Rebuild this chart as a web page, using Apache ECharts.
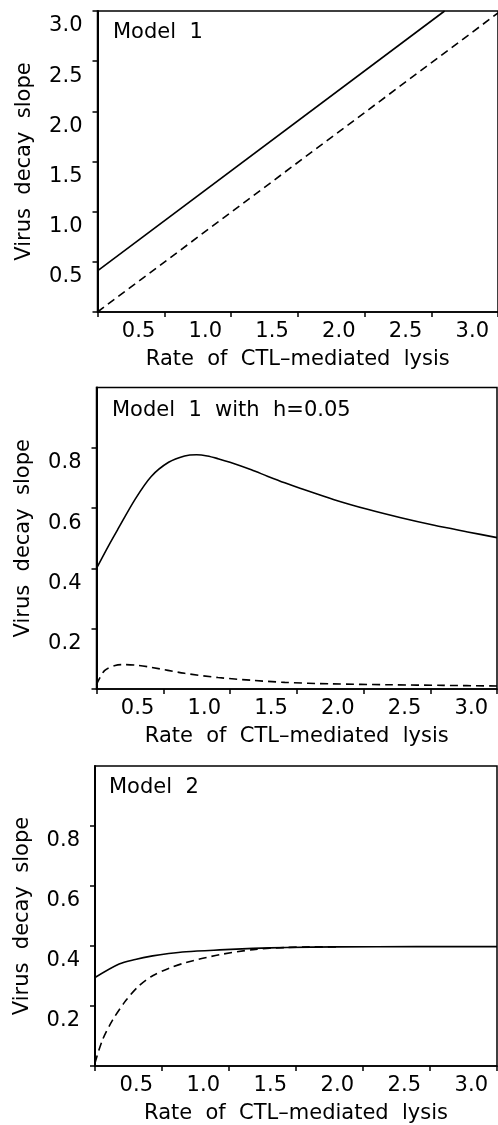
<!DOCTYPE html>
<html>
<head>
<meta charset="utf-8">
<script src="https://cdn.jsdelivr.net/npm/echarts@6/dist/echarts.min.js"></script>
<style>
  html, body { margin: 0; padding: 0; background: #fff; }
  #chart { width: 498px; height: 1125px; }
</style>
</head>
<body>
<div id="chart"></div>
<script>
// panel titles
const panelTitles = ['Model  1', 'Model  1  with  h=0.05', 'Model  2']

// x ticks and labels
const xTicks = [0, 0.5, 1.0, 1.5, 2.0, 2.5, 3.0]
const xLabels = [0.5, 1.0, 1.5, 2.0, 2.5, 3.0]

// panel 1 (straight lines)
const m1SolidX = [0, 2.6]
const m1SolidY = [0.41, 3.0]
const m1DashX = [0, 3.0]
const m1DashY = [0, 2.98]

// panel 2 (Model 1 with h=0.05)
const m1hSolidX = [0, 0.09, 0.16, 0.29, 0.41, 0.54, 0.66, 0.75, 0.83, 0.91, 1.0, 1.16, 1.28, 1.41, 1.53, 1.78, 2.03, 2.28, 2.53, 2.78, 3.0]
const m1hSolidY = [0.40, 0.475, 0.53, 0.63, 0.705, 0.752, 0.773, 0.777, 0.773, 0.764, 0.752, 0.727, 0.706, 0.684, 0.665, 0.628, 0.596, 0.568, 0.543, 0.521, 0.502]
const m1hDashX = [0, 0.06, 0.14, 0.21, 0.3, 0.41, 0.66, 0.91, 1.16, 1.41, 1.76, 2.2, 2.6, 3.0]
const m1hDashY = [0.015, 0.061, 0.078, 0.081, 0.079, 0.072, 0.052, 0.038, 0.029, 0.022, 0.017, 0.014, 0.012, 0.010]

// panel 3 (Model 2)
const m2SolidX = [0, 0.18, 0.3, 0.43, 0.55, 0.68, 0.93, 1.18, 1.43, 1.8, 2.4, 3.0]
const m2SolidY = [0.295, 0.34, 0.355, 0.367, 0.375, 0.381, 0.387, 0.392, 0.395, 0.397, 0.398, 0.398]
const m2DashX = [0, 0.055, 0.13, 0.23, 0.33, 0.43, 0.555, 0.68, 0.93, 1.18, 1.43, 1.6, 1.8]
const m2DashY = [0.01, 0.086, 0.152, 0.218, 0.268, 0.301, 0.326, 0.345, 0.371, 0.388, 0.395, 0.397, 0.397]

const FONT = 'DejaVu Sans'
const zip = (xs, ys) => xs.map((x, i) => [x, ys[i]])

const grids = [
    { left: 97.5, top: 11, right: -2, height: 301 },
    { left: 96.5, top: 387.5, right: 1, height: 301.5 },
    { left: 95, top: 766, right: 1, height: 300 }
]

function xAxisOf(i) {
    return {
        type: 'value', gridIndex: i, min: 0, max: 3, interval: 0.5,
        name: 'Rate  of  CTL\u2013mediated  lysis', nameLocation: 'middle', nameGap: 37,
        nameTextStyle: { fontFamily: FONT, fontSize: 21, color: '#000' },
        axisLine: { lineStyle: { color: '#000', width: 1.5 } },
        axisTick: { show: true, inside: false, length: 5, customValues: xTicks, lineStyle: { color: '#000', width: 1.5 } },
        axisLabel: {
            customValues: xLabels, margin: 9, align: 'right', padding: [0, 9, 0, 0],
            fontFamily: FONT, fontSize: 21, color: '#000',
            formatter: (v) => v.toFixed(1)
        },
        splitLine: { show: false }
    }
}

function yAxisOf(i, max, interval, ticks, labels) {
    return {
        type: 'value', gridIndex: i, min: 0, max: max, interval: interval,
        name: 'Virus  decay  slope', nameLocation: 'middle', nameGap: 62, nameRotate: 90,
        nameTextStyle: { fontFamily: FONT, fontSize: 21, color: '#000' },
        axisLine: { lineStyle: { color: '#000', width: 2 } },
        axisTick: { show: true, inside: false, length: 5, customValues: ticks, lineStyle: { color: '#000', width: 1.5 } },
        axisLabel: {
            customValues: labels, margin: 15, verticalAlign: 'top', lineHeight: 30,
            fontFamily: FONT, fontSize: 21, color: '#000',
            formatter: (v) => v.toFixed(1)
        },
        splitLine: { show: false }
    }
}

function lineSeries(i, data, dashed, smooth) {
    return {
        type: 'line', xAxisIndex: i, yAxisIndex: i, data: data,
        showSymbol: false, smooth: smooth, clip: true,
        lineStyle: { color: '#000', width: 1.6, type: dashed ? [8, 5] : 'solid' },
        animation: false
    }
}

const chart = echarts.init(document.getElementById('chart'))
chart.setOption({
    backgroundColor: '#fff',
    animation: false,
    title: panelTitles.map((t, i) => ({
        text: t, left: [113, 112, 109][i], top: [22, 400, 777][i], padding: 0,
        textStyle: { fontFamily: FONT, fontSize: 21, fontWeight: 'normal', color: '#000' }
    })),
    grid: grids.map((g) => Object.assign({ show: true, borderColor: '#000', borderWidth: 1.5, backgroundColor: 'transparent' }, g)),
    xAxis: [xAxisOf(0), xAxisOf(1), xAxisOf(2)],
    yAxis: [
        yAxisOf(0, 3, 0.5, [0, 0.5, 1.0, 1.5, 2.0, 2.5, 3.0], [0.5, 1.0, 1.5, 2.0, 2.5, 3.0]),
        yAxisOf(1, 1, 0.2, [0, 0.2, 0.4, 0.6, 0.8], [0.2, 0.4, 0.6, 0.8]),
        yAxisOf(2, 1, 0.2, [0, 0.2, 0.4, 0.6, 0.8], [0.2, 0.4, 0.6, 0.8])
    ],
    series: [
        lineSeries(0, zip(m1SolidX, m1SolidY), false, false),
        lineSeries(0, zip(m1DashX, m1DashY), true, false),
        lineSeries(1, zip(m1hSolidX, m1hSolidY), false, 0.3),
        lineSeries(1, zip(m1hDashX, m1hDashY), true, 0.3),
        lineSeries(2, zip(m2SolidX, m2SolidY), false, 0.3),
        lineSeries(2, zip(m2DashX, m2DashY), true, 0.3)
    ]
})
</script>
</body>
</html>
